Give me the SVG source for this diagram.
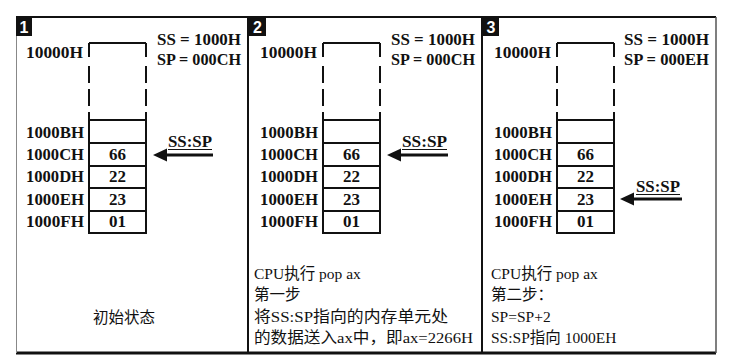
<svg xmlns="http://www.w3.org/2000/svg" width="749" height="363" viewBox="0 0 749 363">
<defs>
<style>
.lbl{font-family:"Liberation Serif","DejaVu Serif",serif;font-weight:bold;font-size:16.5px;fill:#111}
.val{font-family:"Liberation Serif","DejaVu Serif",serif;font-weight:bold;font-size:17px;fill:#111;text-anchor:middle}
.reg{font-family:"Liberation Serif","DejaVu Serif",serif;font-weight:bold;font-size:17.5px;fill:#111}
.badge{font-family:"Liberation Sans",Arial,sans-serif;font-weight:bold;font-size:16px;fill:#fff;text-anchor:middle}
.cn{font-family:"Liberation Serif","Noto Sans CJK SC",serif;font-size:15.5px;fill:#111}
.col{stroke:#111;stroke-width:2;fill:none}
.dash{stroke:#111;stroke-width:2;fill:none;stroke-dasharray:14 9 17 6 17 6 10}
.arr{stroke:#111;stroke-width:3}
.head{fill:#111}
</style>
</defs>
<rect width="749" height="363" fill="#fff"/>
<g id="frame">
<line x1="16" y1="17" x2="716" y2="17" stroke="#111" stroke-width="2"/>
<line x1="16" y1="353" x2="716" y2="353" stroke="#111" stroke-width="3"/>
<line x1="16.5" y1="17" x2="16.5" y2="353" stroke="#888" stroke-width="1"/>
<line x1="716" y1="17" x2="716" y2="353" stroke="#555" stroke-width="1.5"/>
<line x1="248" y1="17" x2="248" y2="353" stroke="#111" stroke-width="2"/>
<line x1="482" y1="17" x2="482" y2="353" stroke="#111" stroke-width="2"/>
</g>
<g id="panel1">
<rect x="16" y="17" width="16" height="19" fill="#111"/>
<text class="badge" x="24" y="33">1</text>
<text class="lbl" x="26" y="58" textLength="57" lengthAdjust="spacingAndGlyphs">10000H</text>
<text class="reg" x="157" y="45" textLength="84" lengthAdjust="spacingAndGlyphs">SS = 1000H</text>
<text class="reg" x="157" y="65" textLength="84" lengthAdjust="spacingAndGlyphs">SP = 000CH</text>
<path class="col" d="M89,43 H146"/>
<line class="dash" x1="89" y1="43" x2="89" y2="120"/>
<line class="dash" x1="146" y1="43" x2="146" y2="120"/>
<path class="col" d="M89,120 V233 H146 V120 Z M89,143 H146 M89,166 H146 M89,188 H146 M89,211 H146"/>
<text class="lbl" x="26" y="138" textLength="58" lengthAdjust="spacingAndGlyphs">1000BH</text>
<text class="lbl" x="26" y="160" textLength="58" lengthAdjust="spacingAndGlyphs">1000CH</text>
<text class="lbl" x="26" y="182" textLength="58" lengthAdjust="spacingAndGlyphs">1000DH</text>
<text class="lbl" x="26" y="205" textLength="58" lengthAdjust="spacingAndGlyphs">1000EH</text>
<text class="lbl" x="26" y="227" textLength="58" lengthAdjust="spacingAndGlyphs">1000FH</text>
<text class="val" x="117.5" y="160">66</text>
<text class="val" x="117.5" y="182">22</text>
<text class="val" x="117.5" y="205">23</text>
<text class="val" x="117.5" y="227">01</text>
<text class="reg" x="168" y="147" textLength="44" lengthAdjust="spacingAndGlyphs">SS:SP</text>
<line x1="168" y1="149.5" x2="212" y2="149.5" stroke="#111" stroke-width="1.2"/>
<text class="cn" x="124" y="323" text-anchor="middle" font-size="17">初始状态</text>
</g>
<g id="panel2">
<rect x="249" y="17" width="17" height="19" fill="#111"/>
<text class="badge" x="257.5" y="33">2</text>
<text class="lbl" x="260" y="58" textLength="57" lengthAdjust="spacingAndGlyphs">10000H</text>
<text class="reg" x="391" y="45" textLength="84" lengthAdjust="spacingAndGlyphs">SS = 1000H</text>
<text class="reg" x="391" y="65" textLength="84" lengthAdjust="spacingAndGlyphs">SP = 000CH</text>
<path class="col" d="M323,43 H380"/>
<line class="dash" x1="323" y1="43" x2="323" y2="120"/>
<line class="dash" x1="380" y1="43" x2="380" y2="120"/>
<path class="col" d="M323,120 V233 H380 V120 Z M323,143 H380 M323,166 H380 M323,188 H380 M323,211 H380"/>
<text class="lbl" x="260" y="138" textLength="58" lengthAdjust="spacingAndGlyphs">1000BH</text>
<text class="lbl" x="260" y="160" textLength="58" lengthAdjust="spacingAndGlyphs">1000CH</text>
<text class="lbl" x="260" y="182" textLength="58" lengthAdjust="spacingAndGlyphs">1000DH</text>
<text class="lbl" x="260" y="205" textLength="58" lengthAdjust="spacingAndGlyphs">1000EH</text>
<text class="lbl" x="260" y="227" textLength="58" lengthAdjust="spacingAndGlyphs">1000FH</text>
<text class="val" x="351.5" y="160">66</text>
<text class="val" x="351.5" y="182">22</text>
<text class="val" x="351.5" y="205">23</text>
<text class="val" x="351.5" y="227">01</text>
<text class="reg" x="402" y="147" textLength="45" lengthAdjust="spacingAndGlyphs">SS:SP</text>
<line x1="402" y1="149.5" x2="447" y2="149.5" stroke="#111" stroke-width="1.2"/>
<text class="cn" x="254" y="279">CPU执行 pop ax</text>
<text class="cn" x="254" y="300">第一步</text>
<text class="cn" x="254" y="322" textLength="194" lengthAdjust="spacingAndGlyphs">将SS:SP指向的内存单元处</text>
<text class="cn" x="254" y="343" textLength="219" lengthAdjust="spacingAndGlyphs">的数据送入ax中，即ax=2266H</text>
</g>
<g id="panel3">
<rect x="483" y="17" width="16" height="19" fill="#111"/>
<text class="badge" x="491" y="33">3</text>
<text class="lbl" x="494" y="58" textLength="57" lengthAdjust="spacingAndGlyphs">10000H</text>
<text class="reg" x="624" y="45" textLength="85" lengthAdjust="spacingAndGlyphs">SS = 1000H</text>
<text class="reg" x="624" y="65" textLength="85" lengthAdjust="spacingAndGlyphs">SP = 000EH</text>
<path class="col" d="M557,43 H614"/>
<line class="dash" x1="557" y1="43" x2="557" y2="120"/>
<line class="dash" x1="614" y1="43" x2="614" y2="120"/>
<path class="col" d="M557,120 V233 H614 V120 Z M557,143 H614 M557,166 H614 M557,188 H614 M557,211 H614"/>
<text class="lbl" x="494" y="138" textLength="58" lengthAdjust="spacingAndGlyphs">1000BH</text>
<text class="lbl" x="494" y="160" textLength="58" lengthAdjust="spacingAndGlyphs">1000CH</text>
<text class="lbl" x="494" y="182" textLength="58" lengthAdjust="spacingAndGlyphs">1000DH</text>
<text class="lbl" x="494" y="205" textLength="58" lengthAdjust="spacingAndGlyphs">1000EH</text>
<text class="lbl" x="494" y="227" textLength="58" lengthAdjust="spacingAndGlyphs">1000FH</text>
<text class="val" x="585.5" y="160">66</text>
<text class="val" x="585.5" y="182">22</text>
<text class="val" x="585.5" y="205">23</text>
<text class="val" x="585.5" y="227">01</text>
<text class="reg" x="636" y="192" textLength="44" lengthAdjust="spacingAndGlyphs">SS:SP</text>
<line x1="636" y1="194.5" x2="680" y2="194.5" stroke="#111" stroke-width="1.2"/>
<text class="cn" x="491" y="279">CPU执行 pop ax</text>
<text class="cn" x="491" y="300">第二步：</text>
<text class="cn" x="491" y="322">SP=SP+2</text>
<text class="cn" x="491" y="343">SS:SP指向 1000EH</text>
</g>
<g id="connectors">
<line class="arr" x1="213" y1="155" x2="164" y2="155"/>
<polygon class="head" points="153,155 167,148.5 167,161.5"/>
<line class="arr" x1="448" y1="155" x2="398" y2="155"/>
<polygon class="head" points="387,155 401,148.5 401,161.5"/>
<line class="arr" x1="682" y1="199" x2="631" y2="199"/>
<polygon class="head" points="620,199 634,192.5 634,205.5"/>
</g>
</svg>
